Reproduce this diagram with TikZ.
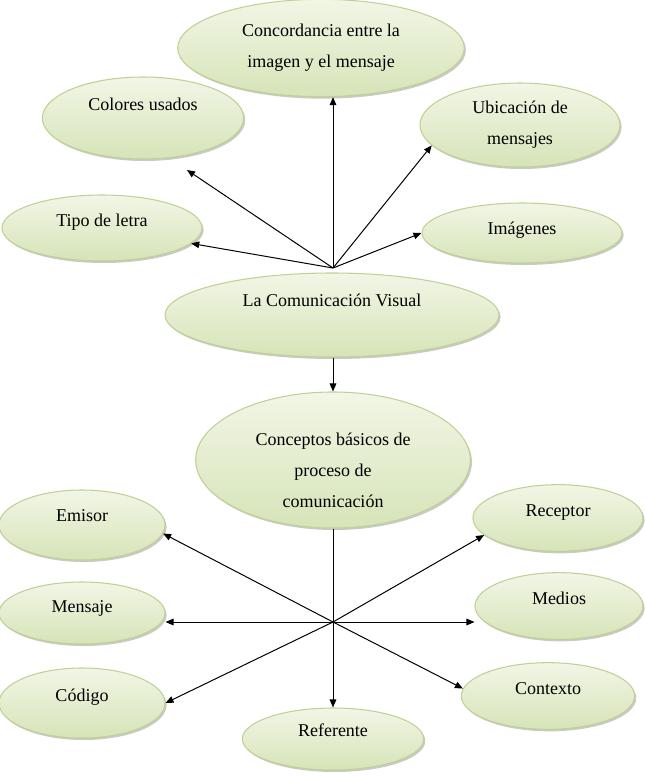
\documentclass[tikz,border=0pt]{standalone}
\usepackage{fontspec}
\setmainfont{Liberation Serif}
\usetikzlibrary{shapes.geometric,arrows.meta,shadows}
\definecolor{bubbletop}{HTML}{F2F6E6}
\definecolor{bubblebot}{HTML}{D6E4B8}
\definecolor{bubbleline}{HTML}{BFD196}
\tikzset{
  bubble/.style={ellipse, draw=bubbleline, line width=0.8pt,
    top color=bubbletop, bottom color=bubblebot, inner sep=0pt, align=center,
    font=\fontsize{13.5}{23.25}\selectfont,
    drop shadow={shadow xshift=1.2pt, shadow yshift=-1.5pt, fill=black!55!bubblebot, opacity=0.35}},
  link/.style={-{Triangle[length=6pt,width=5pt]}, line width=0.75pt}
}
\begin{document}
\begin{tikzpicture}[x=0.75pt,y=-0.75pt]
\useasboundingbox (0,0) rectangle (645,776);
% upper group
\node[bubble, minimum width=215pt, minimum height=73pt] (concordancia) at (321,48) {Concordancia entre la\\imagen y el mensaje};
\node[bubble, minimum width=151pt, minimum height=61.5pt, text height=0pt, text depth=12pt] (colores) at (143,118) {Colores usados};
\node[bubble, minimum width=150pt, minimum height=63pt] (ubicacion) at (520,125) {Ubicación de\\mensajes};
\node[bubble, minimum width=150pt, minimum height=49.5pt, text height=0pt, text depth=3pt] (tipo) at (102,228) {Tipo de letra};
\node[bubble, minimum width=150pt, minimum height=45pt, text height=1.5pt, text depth=0pt] (imagenes) at (522,233) {Imágenes};
\node[bubble, minimum width=250.5pt, minimum height=63pt, text height=0pt, text depth=13.5pt] (comunicacion) at (332,315) {La Comunicación Visual};
\coordinate (hub1) at (333,268);
\coordinate (colores-tip) at (187,170);
\draw[link] (hub1) -- (colores-tip);
\draw[link] (hub1) -- (hub1 |- concordancia.south);
\draw[link] (hub1) -- (ubicacion.193);
\draw[link] (hub1) -- (tipo);
\draw[link] (hub1) -- (imagenes.west);
% lower group
\node[bubble, minimum width=206pt, minimum height=90pt] (conceptos) at (333,460) {\rule{0pt}{25.5pt}Conceptos básicos de\\proceso de\\comunicación};
\draw[link] (conceptos.north |- comunicacion.south) -- (conceptos.north);
\node[bubble, minimum width=124.5pt, minimum height=52.5pt, text height=0pt, text depth=6pt] (emisor) at (82,525) {Emisor};
\node[bubble, minimum width=124.5pt, minimum height=46.5pt, text height=0pt, text depth=1.5pt] (mensaje) at (82,613) {Mensaje};
\node[bubble, minimum width=124.5pt, minimum height=52.5pt, text height=0pt, text depth=3pt] (codigo) at (82,703) {Código};
\node[bubble, minimum width=127.5pt, minimum height=50pt, text height=0pt, text depth=3pt] (receptor) at (558,518) {Receptor};
\node[bubble, minimum width=126pt, minimum height=50pt, text height=0pt, text depth=3pt] (medios) at (559,606) {Medios};
\node[bubble, minimum width=130pt, minimum height=50pt, text height=0pt, text depth=3pt] (contexto) at (548,696) {Contexto};
\node[bubble, minimum width=136pt, minimum height=46.5pt, text height=0pt, text depth=4.5pt] (referente) at (333,739) {Referente};
\coordinate (hub2) at (333,622);
\draw[line width=0.75pt] (conceptos.south) -- (hub2);
\draw[link] (hub2) -- (referente);
\draw[link] (hub2) -- (emisor.-6);
\draw[link] (hub2) -- (hub2 -| mensaje.east);
\draw[link] (hub2) -- (codigo.east);
\draw[link] (hub2) -- (receptor.193);
\draw[link] (hub2) -- (hub2 -| medios.west);
\draw[link] (hub2) -- (contexto.175);
\end{tikzpicture}
\end{document}
